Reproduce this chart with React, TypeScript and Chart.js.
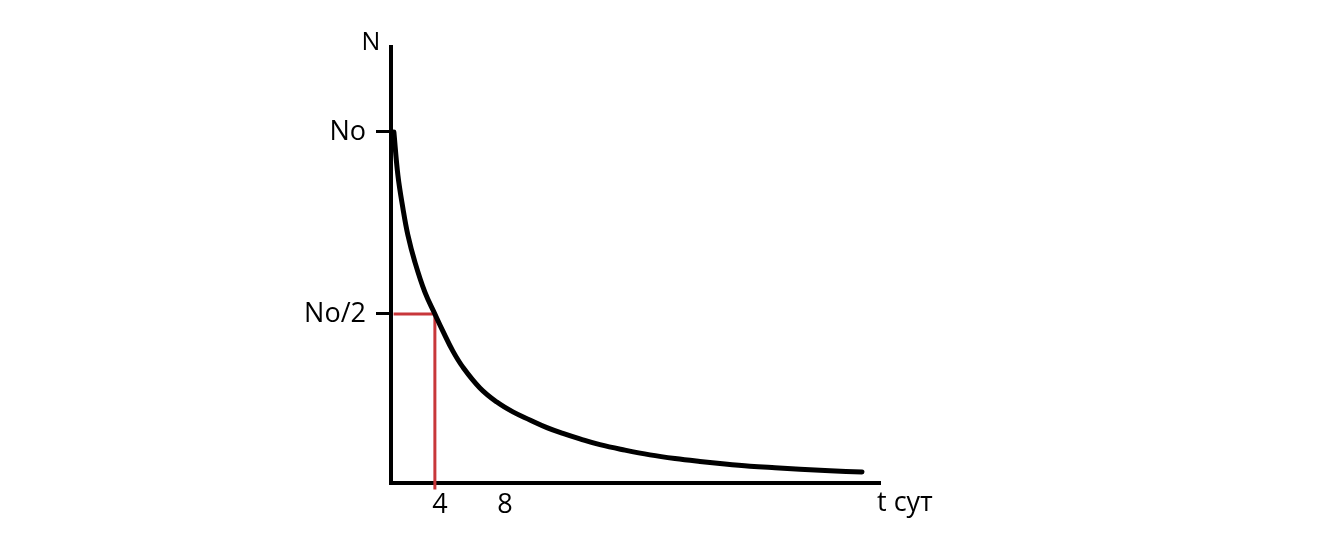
import React, { useEffect, useRef } from "react";
import { Chart, registerables } from "chart.js";

Chart.register(...registerables);

// Time in days and relative number of nuclei N/No
const tDays = [1.477, 1.723, 2.031, 2.338, 2.769, 3.385, 4.0, 4.492, 5.108, 5.723, 6.769, 7.815, 8.8, 9.846, 10.892, 11.877, 12.923, 14.154, 15.692, 17.231, 18.769, 20.308, 21.846, 23.385, 24.923, 26.462, 28.308, 30.277];
const nRel = [1.0, 0.882, 0.791, 0.717, 0.643, 0.56, 0.5, 0.453, 0.398, 0.354, 0.297, 0.258, 0.231, 0.209, 0.188, 0.172, 0.157, 0.141, 0.126, 0.113, 0.103, 0.095, 0.088, 0.082, 0.0775, 0.0734, 0.0692, 0.066];

// Half-life marker (red guide lines)
const halfGuideT = [1.46, 4.0, 4.0];
const halfGuideN = [0.5, 0.5, 0.018];

// Tick labels
const xTickValues = [4, 8];
const xTickLabels = ["4", "8"];
const yTickValues = [1, 0.5];
const yTickLabels = ["No", "No/2"];

const xAxisTitle = "t сут";
const yAxisTitle = "N";

const FONT = "'Open Sans', sans-serif";

const axisLabelsPlugin = {
  id: "axisLabels",
  afterDraw(chart: any) {
    const { ctx, chartArea } = chart;
    ctx.save();
    ctx.fillStyle = "#000";
    ctx.textBaseline = "alphabetic";
    ctx.font = `25px ${FONT}`;
    ctx.textAlign = "center";
    ctx.fillText(yAxisTitle, chartArea.left - 20, chartArea.top + 3);
    ctx.font = `27px ${FONT}`;
    ctx.textAlign = "left";
    ctx.fillText(xAxisTitle, chartArea.right - 3, chartArea.bottom + 28);
    ctx.restore();
  },
};

export default function App() {
  const ref = useRef<HTMLCanvasElement | null>(null);

  useEffect(() => {
    if (!ref.current) return;
    const curve = tDays.map((t, i) => ({ x: t, y: nRel[i] }));
    const guide = halfGuideT.map((t, i) => ({ x: t, y: halfGuideN[i] }));
    const chart = new Chart(ref.current, {
      type: "line",
      data: {
        datasets: [
          {
            data: guide,
            borderColor: "#c8373a",
            borderWidth: 3,
            pointRadius: 0,
            tension: 0,
            clip: false as any,
            order: 1,
          },
          {
            data: curve,
            borderColor: "#000",
            borderWidth: 5,
            pointRadius: 0,
            tension: 0.4,
            borderCapStyle: "round",
            borderJoinStyle: "round",
            order: 0,
          },
        ],
      },
      options: {
        responsive: false,
        animation: false,
        events: [],
        layout: { padding: { left: 241, right: 456, top: 47, bottom: 28 } },
        plugins: { legend: { display: false }, tooltip: { enabled: false } },
        scales: {
          x: {
            type: "linear",
            min: 1.3,
            max: 31.385,
            afterFit: (s: any) => { s.height = 40; },
            afterBuildTicks: (s: any) => { s.ticks = xTickValues.map((v) => ({ value: v })); },
            grid: { display: true, drawOnChartArea: false, drawTicks: false },
            border: { display: true, color: "#000", width: 4 },
            ticks: {
              padding: 6,
              labelOffset: 5,
              color: "#000",
              font: { family: FONT, size: 27 },
              maxRotation: 0,
              autoSkip: false,
              callback: (v: any) => {
                const i = xTickValues.indexOf(Number(v));
                return i >= 0 ? xTickLabels[i] : "";
              },
            },
          },
          y: {
            type: "linear",
            min: 0.0357,
            max: 1.2335,
            afterFit: (s: any) => { s.width = 150; },
            afterBuildTicks: (s: any) => { s.ticks = yTickValues.map((v) => ({ value: v })); },
            grid: { display: true, drawOnChartArea: false, drawTicks: true, tickLength: 15, tickWidth: 3, tickColor: "#000" },
            border: { display: true, color: "#000", width: 4 },
            ticks: {
              padding: 10,
              color: "#000",
              font: { family: FONT, size: 27 },
              autoSkip: false,
              callback: (v: any) => {
                const i = yTickValues.indexOf(Number(v));
                return i >= 0 ? yTickLabels[i] : "";
              },
            },
          },
        },
      },
      plugins: [axisLabelsPlugin],
    });
    return () => chart.destroy();
  }, []);

  return (
    <div style={{ position: "fixed", left: 0, top: 0, width: 1336, height: 551, background: "#fff" }}>
      <canvas ref={ref} width={1336} height={551} style={{ display: "block" }} />
    </div>
  );
}
